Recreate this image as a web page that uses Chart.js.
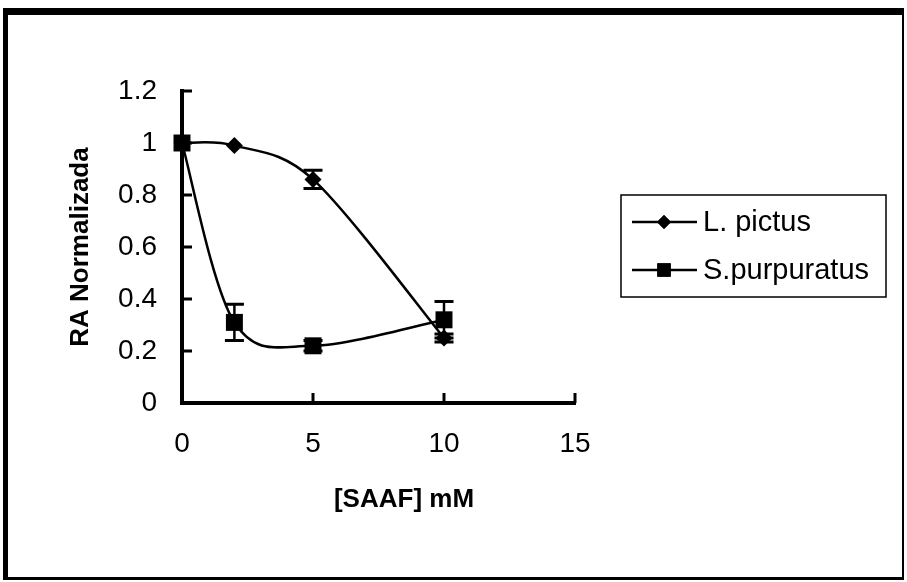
<!DOCTYPE html>
<html><head><meta charset="utf-8">
<script src="https://cdn.jsdelivr.net/npm/chart.js@4.4.1/dist/chart.umd.min.js"></script>
<style>
html,body{margin:0;padding:0;background:#fff;}
#wrap{position:relative;width:907px;height:582px;overflow:hidden;}
#frame{position:absolute;left:3px;top:8px;width:901px;height:572px;border-top:7px solid #000;border-left:5px solid #000;border-bottom:3px solid #000;border-right:2px solid #000;box-sizing:border-box;pointer-events:none;}
canvas{position:absolute;left:0;top:0;}
</style></head><body>
<div id="wrap"><canvas id="c" width="907" height="582"></canvas><div id="frame"></div></div>
<script>
// ---- data ----
const concentrations = [0, 2, 5, 10];
const lPictus = [1.00, 0.99, 0.86, 0.25];
const lPictusErr = [0, 0, 0.035, 0.015];
const sPurpuratus = [1.00, 0.31, 0.22, 0.32];
const sPurpuratusErr = [0, 0.07, 0.02, 0.07];
const seriesNames = ['L. pictus', 'S.purpuratus'];
const seriesStyles = ['rectRot', 'rect'];
const xTicks = [0, 5, 10, 15];
const yTicks = [0, 0.2, 0.4, 0.6, 0.8, 1, 1.2];
const xTitle = '[SAAF] mM';
const yTitle = 'RA Normalizada';

const FONT = '"Liberation Sans", Arial, Helvetica, sans-serif';
Chart.defaults.font.family = FONT;
Chart.defaults.color = '#000';

const errs = [lPictusErr, sPurpuratusErr];

// Excel-like smoothing: tangent (P[i+1]-P[i-1])/6, arms limited to half the segment
const excelSmooth = {
  id: 'excelSmooth',
  beforeDatasetDraw(chart, args) {
    const meta = args.meta;
    meta.dataset.updateControlPoints(chart.chartArea, 'x');
    const pts = meta.data, n = pts.length;
    for (let i = 0; i < n; i++) {
      const p = pts[i];
      const prev = pts[Math.max(i - 1, 0)], next = pts[Math.min(i + 1, n - 1)];
      const tx = (next.x - prev.x) / 6, ty = (next.y - prev.y) / 6;
      const tl = Math.hypot(tx, ty) || 1;
      const dIn = Math.hypot(p.x - prev.x, p.y - prev.y);
      const dOut = Math.hypot(next.x - p.x, next.y - p.y);
      const fIn = Math.min(1, (dIn / 2) / tl), fOut = Math.min(1, (dOut / 2) / tl);
      p.cp1x = p.x - tx * fIn; p.cp1y = p.y - ty * fIn;
      p.cp2x = p.x + tx * fOut; p.cp2y = p.y + ty * fOut;
    }
  }
};

const extras = {
  id: 'extras',
  beforeDatasetsDraw(chart) {
    const ctx = chart.ctx, xs = chart.scales.x, ys = chart.scales.y;
    ctx.save();
    ctx.strokeStyle = '#000';
    chart.data.datasets.forEach((ds, di) => {
      ds.data.forEach((p, i) => {
        const e = errs[di][i];
        if (!e) return;
        const px = xs.getPixelForValue(p.x);
        const yt = ys.getPixelForValue(p.y + e);
        const yb = ys.getPixelForValue(p.y - e);
        ctx.lineWidth = 2.5;
        ctx.beginPath(); ctx.moveTo(px, yt); ctx.lineTo(px, yb); ctx.stroke();
        ctx.lineWidth = 3;
        ctx.beginPath();
        ctx.moveTo(px - 9.5, yt); ctx.lineTo(px + 9.5, yt);
        ctx.moveTo(px - 9.5, yb); ctx.lineTo(px + 9.5, yb);
        ctx.stroke();
      });
    });
    // inward tick marks
    ctx.lineWidth = 3;
    ctx.beginPath();
    const a = chart.chartArea;
    yTicks.forEach(v => { const y = ys.getPixelForValue(v); if (v === 0) return; ctx.moveTo(a.left, y); ctx.lineTo(a.left + 10, y); });
    xTicks.forEach(v => { const x = xs.getPixelForValue(v); if (v === 0) return; ctx.moveTo(x, a.bottom); ctx.lineTo(x, a.bottom - 10); });
    ctx.stroke();
    ctx.restore();
  },
  afterDraw(chart) {
    const ctx = chart.ctx;
    ctx.save();
    ctx.fillStyle = '#000';
    ctx.font = 'bold 26px ' + FONT;
    ctx.textAlign = 'center'; ctx.textBaseline = 'middle';
    ctx.fillText(xTitle, 404, 500);
    ctx.lineWidth = 1.5; ctx.strokeStyle = '#000';
    ctx.strokeRect(621, 195, 265, 102);
    ctx.font = '29px ' + FONT;
    ctx.textAlign = 'left';
    chart.data.datasets.forEach((ds, i) => {
      const y = 222 + i * 48;
      ctx.lineWidth = 2.5;
      ctx.beginPath(); ctx.moveTo(632, y); ctx.lineTo(697, y); ctx.stroke();
      Chart.helpers.drawPoint(ctx, {pointStyle: ds.pointStyle, radius: i === 0 ? 7 : 9.5, borderWidth: 0}, 664, y);
      ctx.fillStyle = '#000';
      ctx.fill();
      ctx.fillText(ds.label, 703, y + 1);
    });
    ctx.restore();
  }
};

function mk(xv, yv) { return xv.map((x, i) => ({x: x, y: yv[i]})); }

new Chart(document.getElementById('c'), {
  type: 'line',
  data: {
    datasets: [
      { label: seriesNames[0], data: mk(concentrations, lPictus), pointStyle: seriesStyles[0], pointRadius: 8.5 },
      { label: seriesNames[1], data: mk(concentrations, sPurpuratus), pointStyle: seriesStyles[1], pointRadius: 12 }
    ].map(d => Object.assign(d, {
      borderColor: '#000', backgroundColor: '#000', pointBackgroundColor: '#000', pointBorderColor: '#000',
      pointBorderWidth: 0, borderWidth: 2.5, tension: 0.4, capBezierPoints: false, fill: false, clip: false
    }))
  },
  options: {
    responsive: false, animation: false,
    layout: { padding: { left: 65, top: 91, right: 332, bottom: 119 } },
    plugins: { legend: { display: false }, tooltip: { enabled: false } },
    scales: {
      x: {
        type: 'linear', min: 0, max: 15,
        afterBuildTicks: s => { s.ticks = xTicks.map(v => ({value: v})); },
        afterFit: s => { s.height = 60; },
        grid: { display: false, drawTicks: false },
        border: { display: true, width: 4, color: '#000' },
        ticks: { font: { size: 28 }, padding: 24, color: '#000', callback: v => String(v) }
      },
      y: {
        type: 'linear', min: 0, max: 1.2,
        afterBuildTicks: s => { s.ticks = yTicks.map(v => ({value: v})); },
        afterFit: s => { s.width = 117; },
        grid: { display: false, drawTicks: false },
        border: { display: true, width: 4, color: '#000' },
        ticks: { font: { size: 28 }, padding: 25, color: '#000', callback: v => String(v) },
        title: { display: true, text: yTitle, font: { size: 26, weight: 'bold' }, padding: 0, color: '#000' }
      }
    }
  },
  plugins: [excelSmooth, extras]
});
</script>
</body></html>
